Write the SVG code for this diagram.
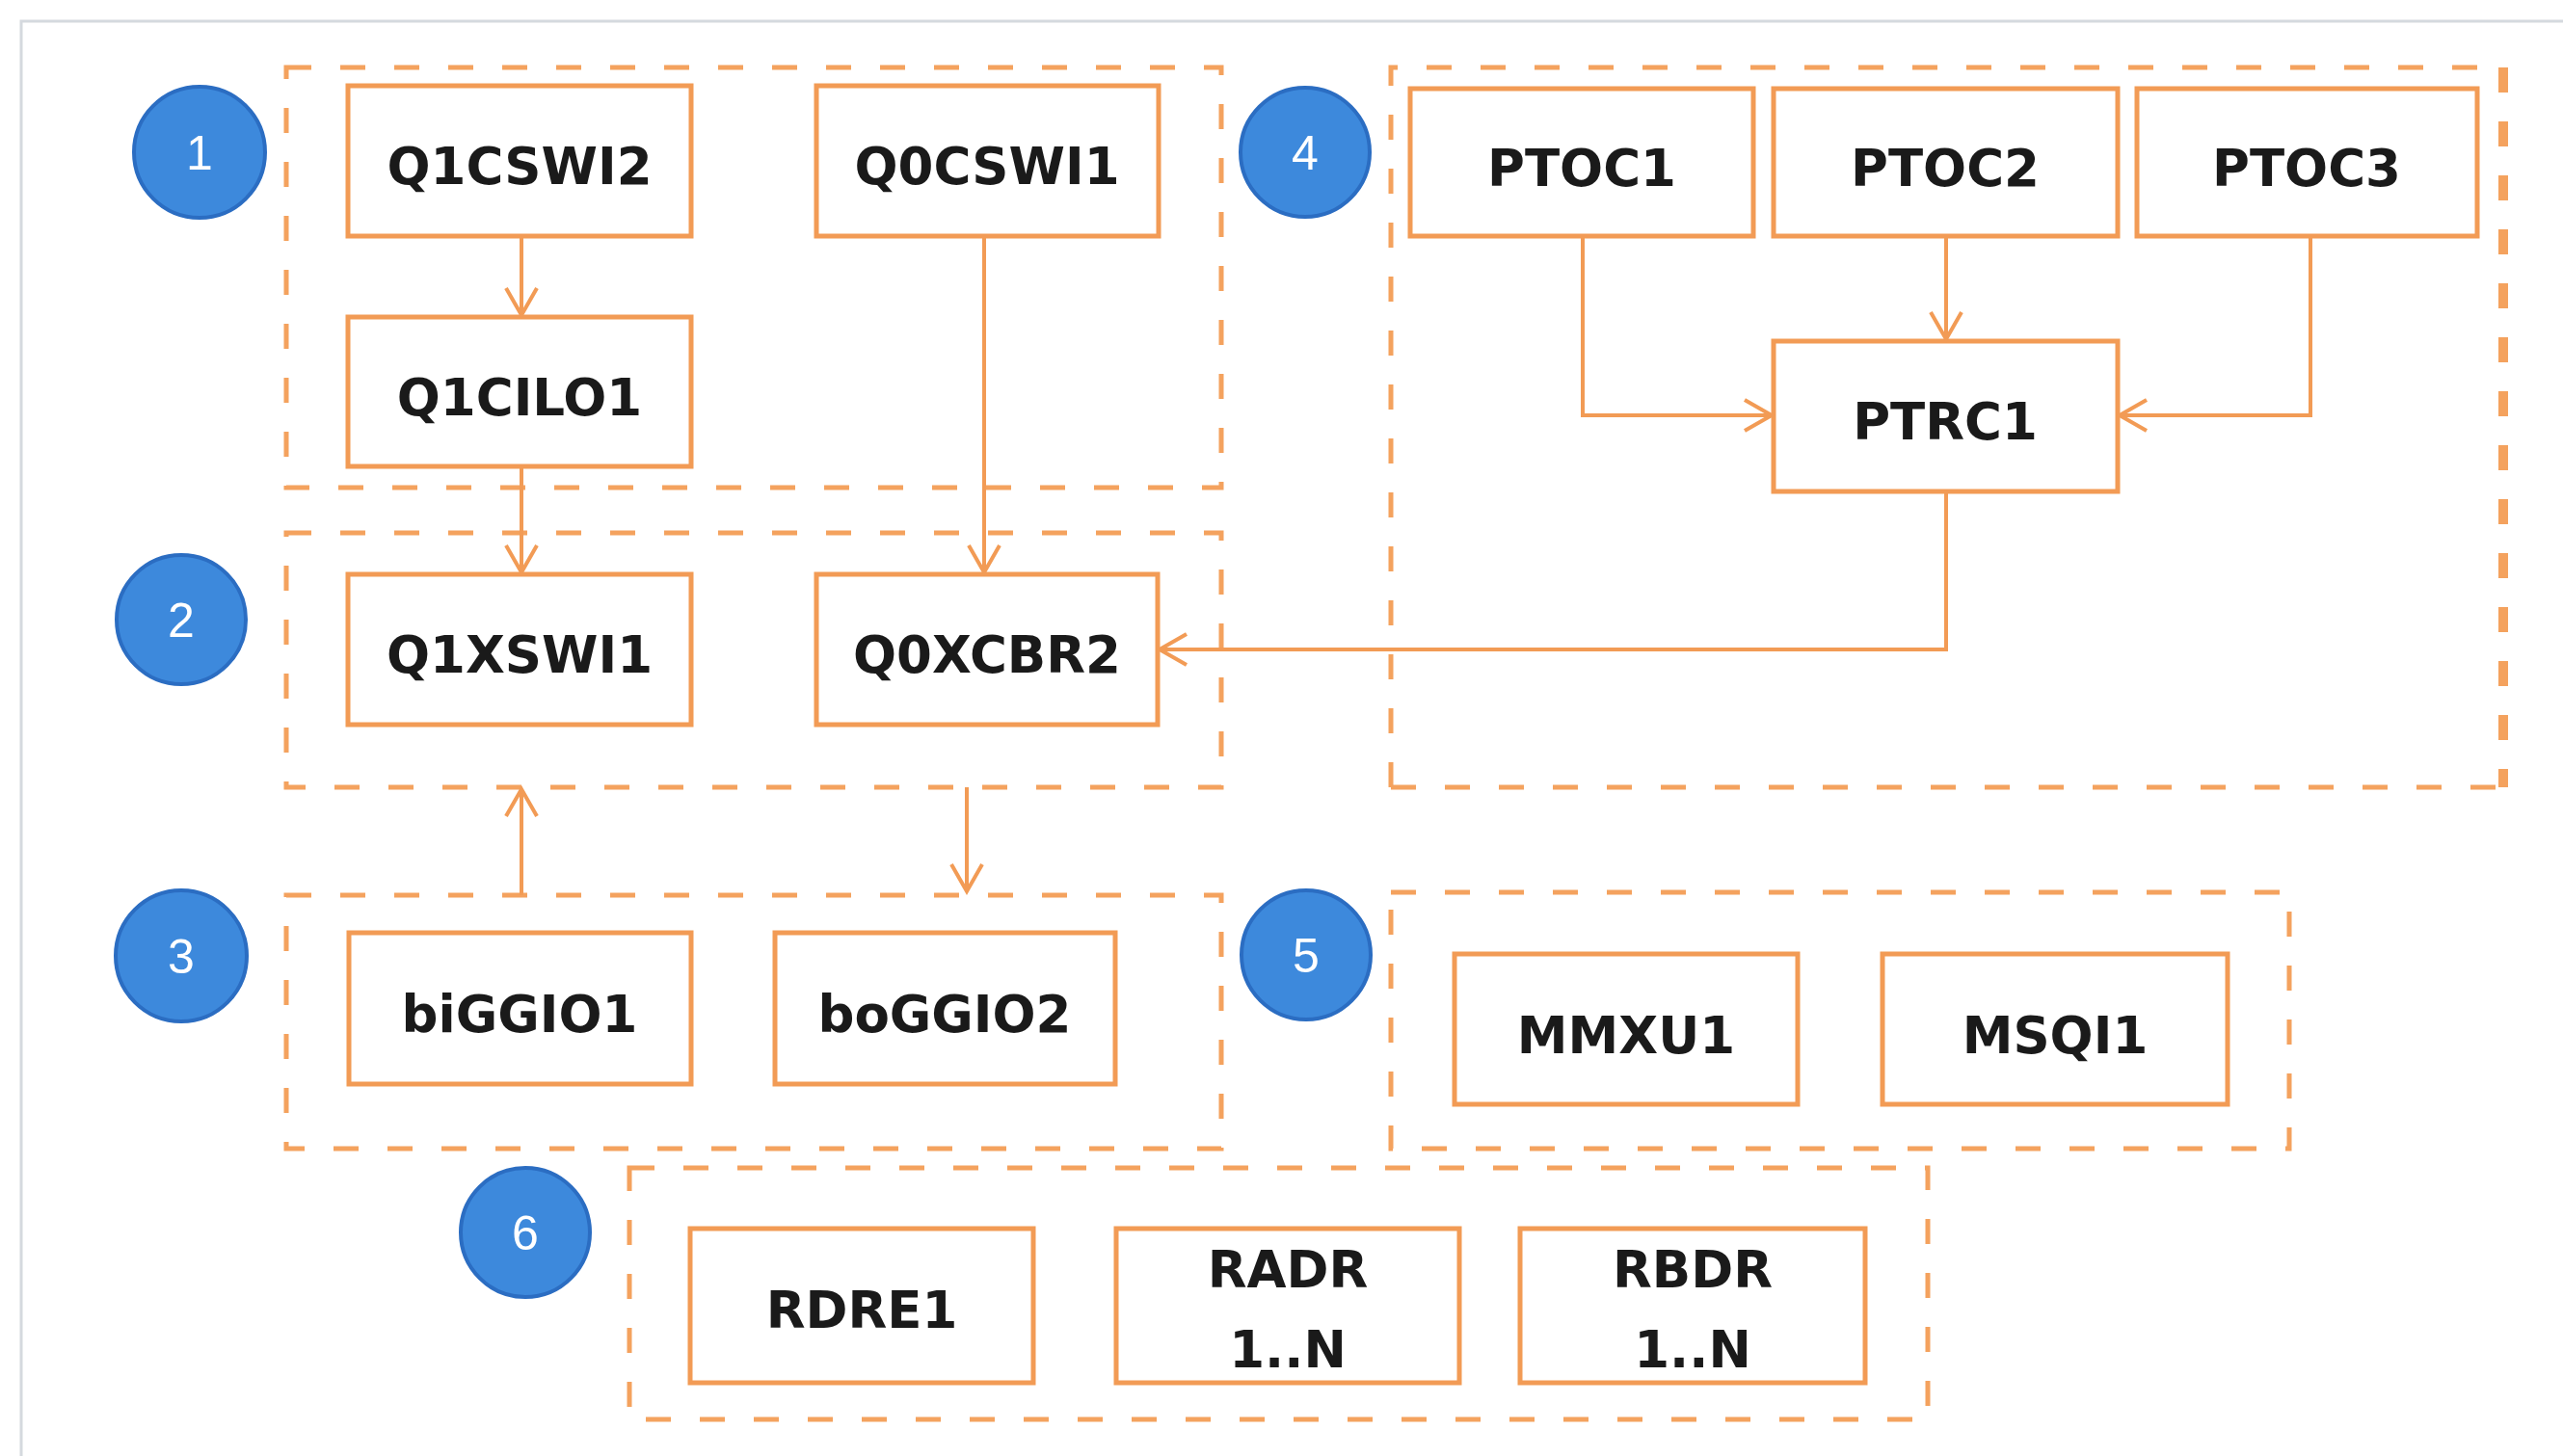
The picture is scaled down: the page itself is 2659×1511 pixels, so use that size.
<svg xmlns="http://www.w3.org/2000/svg" width="2659" height="1511" viewBox="0 0 2659 1511">
  <style>
    .grp { fill: none; stroke: #f4a25e; stroke-width: 5; stroke-dasharray: 26 30; }
    .box rect { fill: #ffffff; stroke: #f29b55; stroke-width: 5; }
    .box text { font-family: "DejaVu Sans", Verdana, sans-serif; font-weight: bold; font-size: 53px; fill: #1a1a1a; text-anchor: middle; }
    .badge circle { fill: #3d89dc; stroke: #2b6dc2; stroke-width: 4; }
    .badge text { font-family: "Liberation Sans", Arial, sans-serif; font-size: 50px; fill: #ffffff; text-anchor: middle; }
    .conn { fill: none; stroke: #f29b55; stroke-width: 4; }
  </style>
  <defs>
    <marker id="arrow" markerUnits="userSpaceOnUse" markerWidth="40" markerHeight="40" viewBox="0 0 40 40" refX="32" refY="20" orient="auto">
      <path d="M4,4 L32,20 L4,36" fill="none" stroke="#f29b55" stroke-width="4"/>
    </marker>
  </defs>

  <rect width="2659" height="1511" fill="#ffffff"/>
  <!-- page frame -->
  <rect x="22" y="22" width="2680" height="1530" fill="none" stroke="#d5d9de" stroke-width="3"/>

  <!-- dashed group outlines -->
  <g id="groups">
    <rect id="group1" class="grp" x="297" y="70" width="970" height="436"/>
    <rect id="group2" class="grp" x="297" y="553" width="970" height="264"/>
    <rect id="group3" class="grp" x="297" y="929" width="970" height="263"/>
    <path id="group4" class="grp" d="M1443,817 L1443,70 L2597,70"/>
    <path class="grp" d="M1443,817 L2597,817"/>
    <path class="grp" d="M2597,70 L2597,817" style="stroke-width:10"/>
    <rect id="group5" class="grp" x="1443" y="926" width="932" height="266"/>
    <rect id="group6" class="grp" x="653" y="1212" width="1347" height="261"/>
  </g>

  <!-- numbered badges -->
  <g id="badge1" class="badge"><circle cx="207" cy="158" r="68"/><text x="207" y="176">1</text></g>
  <g id="badge2" class="badge"><circle cx="188" cy="643" r="67"/><text x="188" y="661">2</text></g>
  <g id="badge3" class="badge"><circle cx="188" cy="992" r="68"/><text x="188" y="1010">3</text></g>
  <g id="badge4" class="badge"><circle cx="1354" cy="158" r="67"/><text x="1354" y="176">4</text></g>
  <g id="badge5" class="badge"><circle cx="1355" cy="991" r="67"/><text x="1355" y="1009">5</text></g>
  <g id="badge6" class="badge"><circle cx="545" cy="1279" r="67"/><text x="545" y="1297">6</text></g>

  <!-- logical nodes -->
  <g id="Q1CSWI2" class="box"><rect x="361" y="89" width="356" height="156"/><text x="539" y="191">Q1CSWI2</text></g>
  <g id="Q0CSWI1" class="box"><rect x="847" y="89" width="355" height="156"/><text x="1024" y="191">Q0CSWI1</text></g>
  <g id="Q1CILO1" class="box"><rect x="361" y="329" width="356" height="155"/><text x="539" y="431">Q1CILO1</text></g>
  <g id="Q1XSWI1" class="box"><rect x="361" y="596" width="356" height="156"/><text x="539" y="698">Q1XSWI1</text></g>
  <g id="Q0XCBR2" class="box"><rect x="847" y="596" width="354" height="156"/><text x="1024" y="698">Q0XCBR2</text></g>
  <g id="biGGIO1" class="box"><rect x="362" y="968" width="355" height="157"/><text x="539" y="1071">biGGIO1</text></g>
  <g id="boGGIO2" class="box"><rect x="804" y="968" width="353" height="157"/><text x="980" y="1071">boGGIO2</text></g>
  <g id="PTOC1" class="box"><rect x="1463" y="92" width="356" height="153"/><text x="1641" y="193">PTOC1</text></g>
  <g id="PTOC2" class="box"><rect x="1840" y="92" width="357" height="153"/><text x="2018" y="193">PTOC2</text></g>
  <g id="PTOC3" class="box"><rect x="2217" y="92" width="353" height="153"/><text x="2393" y="193">PTOC3</text></g>
  <g id="PTRC1" class="box"><rect x="1840" y="354" width="357" height="156"/><text x="2018" y="456">PTRC1</text></g>
  <g id="MMXU1" class="box"><rect x="1509" y="990" width="356" height="156"/><text x="1687" y="1093">MMXU1</text></g>
  <g id="MSQI1" class="box"><rect x="1953" y="990" width="358" height="156"/><text x="2132" y="1093">MSQI1</text></g>
  <g id="RDRE1" class="box"><rect x="716" y="1275" width="356" height="160"/><text x="894" y="1378">RDRE1</text></g>
  <g id="RADR" class="box"><rect x="1158" y="1275" width="356" height="160"/><text x="1336" y="1336">RADR</text><text x="1336" y="1419">1..N</text></g>
  <g id="RBDR" class="box"><rect x="1577" y="1275" width="358" height="160"/><text x="1756" y="1336">RBDR</text><text x="1756" y="1419">1..N</text></g>

  <!-- connectors -->
  <g id="connectors">
    <path class="conn" d="M541,245 L541,327" marker-end="url(#arrow)"/>
    <path class="conn" d="M541,484 L541,594" marker-end="url(#arrow)"/>
    <path class="conn" d="M1021,245 L1021,594" marker-end="url(#arrow)"/>
    <path class="conn" d="M1642,245 L1642,431 L1838,431" marker-end="url(#arrow)"/>
    <path class="conn" d="M2019,245 L2019,352" marker-end="url(#arrow)"/>
    <path class="conn" d="M2397,245 L2397,431 L2199,431" marker-end="url(#arrow)"/>
    <path class="conn" d="M2019,510 L2019,674 L1203,674" marker-end="url(#arrow)"/>
    <path class="conn" d="M541,929 L541,819" marker-end="url(#arrow)"/>
    <path class="conn" d="M1003,817 L1003,925" marker-end="url(#arrow)"/>
  </g>
</svg>
